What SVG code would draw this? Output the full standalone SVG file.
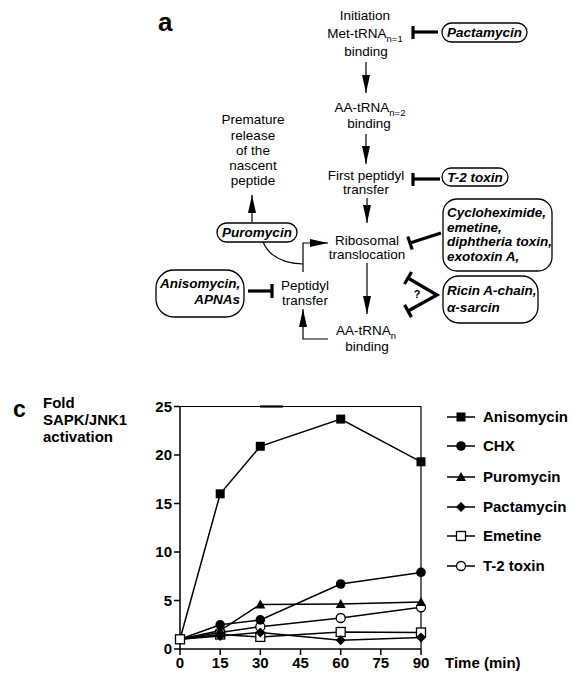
<svg xmlns="http://www.w3.org/2000/svg" width="573" height="676" viewBox="0 0 573 676">
<style>
text{font-family:"Liberation Sans",Arial,sans-serif;fill:#000}
.t{font-size:13.5px}
.sub{font-size:9.5px}
.inh{font-size:13.5px;font-weight:bold;font-style:italic}
.lbl{font-size:15px;font-weight:bold}
.box{fill:#fff;stroke:#000;stroke-width:1.3}
.ln{fill:none;stroke:#000;stroke-width:1.2}
.thk{fill:none;stroke:#000;stroke-width:3.2}
.ax{fill:none;stroke:#000;stroke-width:1.5}
.ser{fill:none;stroke:#000;stroke-width:1.5}
</style>
<defs>
<marker id="ah" viewBox="0 0 18 8" markerWidth="18" markerHeight="8" refX="18" refY="4" orient="auto" markerUnits="userSpaceOnUse"><path d="M0,0 L18,4 L0,8 z" fill="#000"/></marker>
<rect id="sq" x="-4.5" y="-4.5" width="9" height="9" fill="#000"/>
<circle id="ci" r="4.8" fill="#000"/>
<path id="tr" d="M0,-5 L5,4 L-5,4 z" fill="#000"/>
<path id="di" d="M0,-5 L5,0 L0,5 L-5,0 z" fill="#000"/>
<rect id="osq" x="-4.5" y="-4.5" width="9" height="9" fill="#fff" stroke="#000" stroke-width="1.3"/>
<circle id="oci" r="4.5" fill="#fff" stroke="#000" stroke-width="1.3"/>
</defs>

<text x="158" y="31" style="font-size:26px;font-weight:bold">a</text>

<g id="connectors">
<line class="ln" x1="366" y1="62" x2="366" y2="93" marker-end="url(#ah)"/>
<line class="ln" x1="366" y1="134" x2="366" y2="164" marker-end="url(#ah)"/>
<line class="ln" x1="367" y1="198" x2="367" y2="223" marker-end="url(#ah)"/>
<line class="ln" x1="367" y1="263" x2="367" y2="314" marker-end="url(#ah)"/>
<polyline class="ln" points="328,339 303,339 303,309" marker-end="url(#ah)"/>
<polyline class="ln" points="303,272 303,243 328,243" marker-end="url(#ah)"/>
<path class="ln" d="M263,242 Q272,263 303,264"/>
<line class="ln" x1="252" y1="222" x2="252" y2="195" marker-end="url(#ah)"/>
<line class="thk" x1="438" y1="32" x2="413" y2="32"/><line class="thk" x1="413" y1="26" x2="413" y2="39"/>
<line class="thk" x1="440" y1="179" x2="413" y2="179"/><line class="thk" x1="413" y1="173" x2="413" y2="186"/>
<line class="thk" x1="441" y1="233" x2="410" y2="243"/><line class="thk" x1="407.8" y1="236.4" x2="412.2" y2="249.6"/>
<polyline class="thk" points="408,278 437,295 408,311"/>
<line class="thk" x1="411.5" y1="272" x2="404.5" y2="284"/>
<line class="thk" x1="411.4" y1="317.1" x2="404.6" y2="304.9"/>
<line class="thk" x1="248" y1="291" x2="272" y2="291"/><line class="thk" x1="272" y1="284" x2="272" y2="298"/>
</g>
<text x="417" y="298" style="font-size:11px;font-weight:bold" text-anchor="middle">?</text>

<g id="n-init">
<text class="t" x="365" y="20" text-anchor="middle">Initiation</text>
<text class="t" x="365" y="38" text-anchor="middle">Met-tRNA<tspan class="sub" dy="4">n=1</tspan></text>
<text class="t" x="366" y="56" text-anchor="middle">binding</text>
</g>
<g id="n-aa2">
<text class="t" x="370" y="112" text-anchor="middle">AA-tRNA<tspan class="sub" dy="4">n=2</tspan></text>
<text class="t" x="369" y="128" text-anchor="middle">binding</text>
</g>
<g id="n-first">
<text class="t" x="366" y="180" text-anchor="middle">First peptidyl</text>
<text class="t" x="366" y="194" text-anchor="middle">transfer</text>
</g>
<g id="n-ribo">
<text class="t" x="367" y="245" text-anchor="middle">Ribosomal</text>
<text class="t" x="367" y="259" text-anchor="middle">translocation</text>
</g>
<g id="n-aan">
<text class="t" x="366" y="335" text-anchor="middle">AA-tRNA<tspan class="sub" dy="4">n</tspan></text>
<text class="t" x="367" y="351" text-anchor="middle">binding</text>
</g>
<g id="n-pep">
<text class="t" x="305" y="290" text-anchor="middle">Peptidyl</text>
<text class="t" x="305" y="305" text-anchor="middle">transfer</text>
</g>
<g id="n-release">
<text class="t" x="253" y="124" text-anchor="middle">Premature</text>
<text class="t" x="253" y="140" text-anchor="middle">release</text>
<text class="t" x="253" y="155" text-anchor="middle">of the</text>
<text class="t" x="253" y="170" text-anchor="middle">nascent</text>
<text class="t" x="253" y="185" text-anchor="middle">peptide</text>
</g>
<g id="n-pacta">
<rect class="box" x="442" y="23" width="85" height="19" rx="9.5"/>
<text class="inh" x="484.5" y="37" text-anchor="middle">Pactamycin</text>
</g>
<g id="n-t2">
<rect class="box" x="442" y="168" width="66" height="18" rx="9"/>
<text class="inh" x="475" y="182" text-anchor="middle">T-2 toxin</text>
</g>
<g id="n-puro">
<rect class="box" x="217" y="223" width="80" height="19" rx="9.5"/>
<text class="inh" x="257" y="237" text-anchor="middle">Puromycin</text>
</g>
<g id="n-chx">
<rect class="box" x="443" y="199" width="109" height="72" rx="14"/>
<text class="inh" x="447" y="217">Cycloheximide,</text>
<text class="inh" x="447" y="232">emetine,</text>
<text class="inh" x="447" y="246">diphtheria toxin,</text>
<text class="inh" x="447" y="261">exotoxin A,</text>
</g>
<g id="n-ricin">
<rect class="box" x="443" y="276" width="95" height="47" rx="16"/>
<text class="inh" x="447" y="295">Ricin A-chain,</text>
<text class="inh" x="447" y="312">α-sarcin</text>
</g>
<g id="n-aniso">
<rect class="box" x="156" y="270" width="88" height="47" rx="18"/>
<text class="inh" x="160" y="288">Anisomycin,</text>
<text class="inh" x="240" y="304" text-anchor="end">APNAs</text>
</g>

<g id="chart">
<text x="13" y="417" style="font-size:23px;font-weight:bold">c</text>
<text class="lbl" x="43" y="408">Fold</text>
<text class="lbl" x="43" y="425">SAPK/JNK1</text>
<text class="lbl" x="43" y="442">activation</text>

<polyline class="ax" points="180,406.5 180,649 421,649"/>
<polyline class="ln" points="180,406.5 421,406.5 421,649"/>
<line x1="260" y1="406.5" x2="283" y2="406.5" stroke="#000" stroke-width="2.2"/>
<path class="ax" d="M174,649H180M174,600.5H180M174,552H180M174,503.5H180M174,455H180M174,406.5H180"/>
<path class="ax" d="M180,649V655M220.2,649V655M260.3,649V655M300.5,649V655M340.7,649V655M380.8,649V655M421,649V655"/>
<g class="lbl" text-anchor="end">
<text class="lbl" x="172" y="654">0</text>
<text class="lbl" x="172" y="605.5">5</text>
<text class="lbl" x="172" y="557">10</text>
<text class="lbl" x="172" y="508.5">15</text>
<text class="lbl" x="172" y="460">20</text>
<text class="lbl" x="172" y="411.5">25</text>
</g>
<g text-anchor="middle">
<text class="lbl" x="180" y="668">0</text>
<text class="lbl" x="220.2" y="668">15</text>
<text class="lbl" x="260.3" y="668">30</text>
<text class="lbl" x="300.5" y="668">45</text>
<text class="lbl" x="340.7" y="668">60</text>
<text class="lbl" x="380.8" y="668">75</text>
<text class="lbl" x="421" y="668">90</text>
</g>
<text class="lbl" x="445" y="668">Time (min)</text>

<polyline class="ser" points="180,639.3 220.2,493.8 260.3,446.3 340.7,419.1 421,461.8"/>
<polyline class="ser" points="180,639.3 220.2,624.8 260.3,619.9 340.7,584 421,572.4"/>
<polyline class="ser" points="180,639.3 220.2,630.6 260.3,604.4 340.7,604 421,602"/>
<polyline class="ser" points="180,639.3 220.2,635.9 260.3,632.5 340.7,640.3 421,637.4"/>
<polyline class="ser" points="180,639.3 220.2,634.5 260.3,636.9 340.7,632 421,632.5"/>
<polyline class="ser" points="180,639.3 220.2,632.5 260.3,626.7 340.7,618 421,607.3"/>

<use href="#osq" x="180" y="639.3"/>
<use href="#sq" x="220.2" y="493.8"/><use href="#sq" x="260.3" y="446.3"/><use href="#sq" x="340.7" y="419.1"/><use href="#sq" x="421" y="461.8"/>
<use href="#osq" x="220.2" y="634.5"/><use href="#osq" x="260.3" y="636.9"/><use href="#osq" x="340.7" y="632"/><use href="#osq" x="421" y="632.5"/>
<use href="#oci" x="220.2" y="632.5"/><use href="#oci" x="260.3" y="626.7"/><use href="#oci" x="340.7" y="618"/><use href="#oci" x="421" y="607.3"/>
<use href="#di" x="220.2" y="635.9"/><use href="#di" x="260.3" y="632.5"/><use href="#di" x="340.7" y="640.3"/><use href="#di" x="421" y="637.4"/>
<use href="#tr" x="220.2" y="630.6"/><use href="#tr" x="260.3" y="604.4"/><use href="#tr" x="340.7" y="604"/><use href="#tr" x="421" y="602"/>
<use href="#ci" x="220.2" y="624.8"/><use href="#ci" x="260.3" y="619.9"/><use href="#ci" x="340.7" y="584"/><use href="#ci" x="421" y="572.4"/>
</g>

<g id="legend">
<path class="ser" d="M447,417H475M447,446H475M447,477H475M447,507H475M447,536H475M447,566H475"/>
<use href="#sq" x="461" y="417"/>
<use href="#ci" x="461" y="446"/>
<use href="#tr" x="461" y="477"/>
<use href="#di" x="461" y="507"/>
<use href="#osq" x="461" y="536"/>
<use href="#oci" x="461" y="566"/>
<text class="lbl" x="483" y="422">Anisomycin</text>
<text class="lbl" x="483" y="451">CHX</text>
<text class="lbl" x="483" y="482">Puromycin</text>
<text class="lbl" x="483" y="512">Pactamycin</text>
<text class="lbl" x="483" y="541">Emetine</text>
<text class="lbl" x="483" y="571">T-2 toxin</text>
</g>
</svg>
